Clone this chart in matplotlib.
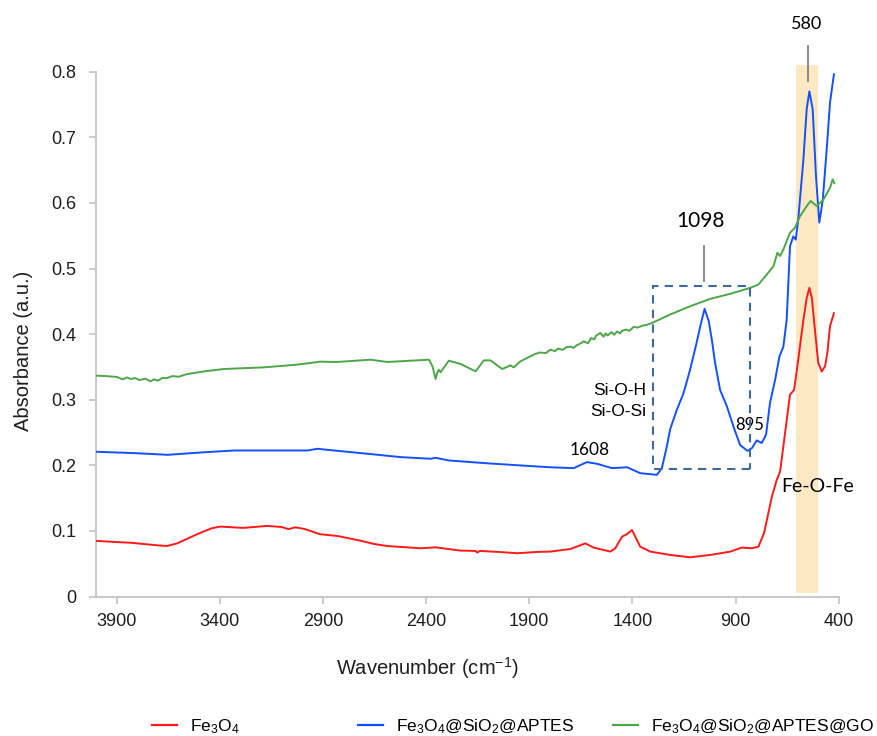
import numpy as np
import matplotlib
matplotlib.use("Agg")
import matplotlib.pyplot as plt
from matplotlib.patches import Rectangle
from matplotlib.lines import Line2D
from matplotlib.ticker import FuncFormatter

plt.rcParams.update({'font.family': 'Liberation Sans', 'font.size': 13,
                     'mathtext.default': 'regular'})

# FTIR spectra (wavenumber cm-1, absorbance a.u.)
wn_fe3o4 = [3995, 3900, 3833, 3700, 3656, 3607, 3510, 3440, 3398, 3285, 3172, 3100,
            3067, 3035, 2990, 2914, 2833, 2814, 2717, 2650, 2588, 2426, 2354, 2233,
            2160, 2152, 2140, 2050, 1958, 1860, 1797, 1700, 1628, 1588, 1507, 1483,
            1450, 1425, 1402, 1386, 1362, 1313, 1217, 1120, 1023, 926, 870, 821,
            789, 762, 741, 724, 700, 684, 660, 636, 616, 596, 571, 555, 542, 530,
            520, 499, 482, 466, 455, 442, 423]
abs_fe3o4 = [0.0847, 0.083, 0.082, 0.078, 0.077, 0.081, 0.095, 0.104, 0.1066, 0.1046,
             0.1076, 0.106, 0.1026, 0.1056, 0.103, 0.095, 0.0924, 0.0913, 0.085, 0.080,
             0.077, 0.0735, 0.075, 0.070, 0.0695, 0.067, 0.0695, 0.068, 0.066, 0.068,
             0.0685, 0.0725, 0.081, 0.0746, 0.0685, 0.0735, 0.0913, 0.0954, 0.1015,
             0.0913, 0.076, 0.0685, 0.0634, 0.0598, 0.0634, 0.0684, 0.0746, 0.0736,
             0.076, 0.0964, 0.127, 0.152, 0.178, 0.1905, 0.249, 0.3076, 0.315, 0.361,
             0.422, 0.455, 0.4705, 0.455, 0.422, 0.356, 0.343, 0.351, 0.371, 0.412, 0.432]

wn_aptes = [3995, 3814, 3652, 3491, 3330, 3168, 2975, 2927, 2846, 2684, 2523, 2378,
            2354, 2290, 2100, 1900, 1797, 1685, 1620, 1571, 1499, 1425, 1362, 1281,
            1257, 1233, 1217, 1184, 1152, 1120, 1090, 1071, 1050, 1030, 1015, 999,
            975, 942, 910, 878, 842, 821, 797, 773, 752, 733, 708, 687, 668, 652,
            636, 620, 608, 596, 571, 555, 542, 526, 510, 494, 477, 458, 442, 423]
abs_aptes = [0.2206, 0.2186, 0.216, 0.2196, 0.2226, 0.2226, 0.2226, 0.2252, 0.2226,
             0.2176, 0.2125, 0.210, 0.2115, 0.2074, 0.203, 0.199, 0.197, 0.1957,
             0.2049, 0.2023, 0.1957, 0.197, 0.188, 0.1855, 0.1957, 0.2287, 0.255,
             0.285, 0.31, 0.346, 0.385, 0.412, 0.4385, 0.42, 0.3916, 0.356, 0.315,
             0.29, 0.259, 0.231, 0.222, 0.226, 0.238, 0.234, 0.2466, 0.295, 0.3305,
             0.366, 0.381, 0.422, 0.534, 0.549, 0.544, 0.575, 0.666, 0.743, 0.770,
             0.743, 0.641, 0.570, 0.605, 0.682, 0.753, 0.796]

wn_go = [3995, 3950, 3898, 3870, 3850, 3833, 3810, 3790, 3760, 3736, 3720, 3700,
         3680, 3656, 3630, 3600, 3559, 3480, 3381, 3188, 3027, 2960, 2914, 2833,
         2669, 2588, 2386, 2369, 2354, 2345, 2338, 2330, 2290, 2233, 2160, 2120,
         2088, 2031, 1991, 1975, 1943, 1878, 1850, 1820, 1797, 1775, 1760, 1740,
         1720, 1700, 1685, 1670, 1650, 1636, 1615, 1600, 1585, 1575, 1555, 1540,
         1530, 1520, 1500, 1488, 1474, 1460, 1450, 1430, 1415, 1394, 1375, 1350,
         1330, 1305, 1217, 1120, 1023, 926, 829, 789, 748, 716, 697, 684, 668,
         636, 612, 587, 555, 536, 506, 474, 442, 429, 421]
abs_go = [0.3366, 0.336, 0.3346, 0.331, 0.334, 0.3316, 0.333, 0.330, 0.332, 0.328,
          0.331, 0.329, 0.333, 0.333, 0.336, 0.335, 0.339, 0.343, 0.3468, 0.3493,
          0.3534, 0.356, 0.358, 0.3575, 0.361, 0.3575, 0.361, 0.3509, 0.3316, 0.342,
          0.3458, 0.3417, 0.3595, 0.3545, 0.3432, 0.360, 0.360, 0.3468, 0.3524,
          0.3493, 0.3585, 0.3687, 0.372, 0.371, 0.3763, 0.374, 0.378, 0.376, 0.380,
          0.381, 0.379, 0.383, 0.386, 0.389, 0.386, 0.394, 0.392, 0.398, 0.4018,
          0.396, 0.401, 0.398, 0.403, 0.399, 0.404, 0.401, 0.405, 0.407, 0.405,
          0.411, 0.410, 0.413, 0.414, 0.417, 0.4298, 0.4425, 0.4537, 0.4614, 0.4705,
          0.4756, 0.491, 0.5035, 0.524, 0.519, 0.529, 0.5545, 0.562, 0.58, 0.595,
          0.603, 0.595, 0.605, 0.623, 0.636, 0.630]

labels = ['Fe$_3$O$_4$', 'Fe$_3$O$_4$@SiO$_2$@APTES', 'Fe$_3$O$_4$@SiO$_2$@APTES@GO']
colors = ['#FF1A1A', '#1450FF', '#4DA64A']
axis_gray = '#C4C4C4'

fig = plt.figure(figsize=(8.77, 7.36), dpi=100)
ax = fig.add_axes([0.1095, 0.1895, 0.8468, 0.7131])

# Fe-O-Fe band highlight (runs slightly above the axis top)
ax.axvspan(500, 607, ymin=0.006, ymax=1.012, color='#FCE9C4', lw=0, zorder=0, clip_on=False)

series = [(wn_fe3o4, abs_fe3o4), (wn_aptes, abs_aptes), (wn_go, abs_go)]
for (x, y), c in zip(series, colors):
    ax.plot(x, y, color=c, lw=1.4, zorder=3)

# Si-O box
ax.add_patch(Rectangle((829, 0.1947), 1300 - 829, 0.473 - 0.1947, fill=False,
                       ec='#3C6A9A', lw=1.5, ls=(0, (4, 3)), zorder=4))

# peak markers
ax.plot([1055, 1055], [0.481, 0.534], color='#808080', lw=1.3)
ax.plot([550, 550], [0.786, 0.839], color='#808080', lw=1.3, clip_on=False)

ann_font = ['Lato', 'DejaVu Sans']
ax.text(1071, 0.572, '1098', fontsize=15, family=ann_font, ha='center', va='center')
ax.text(555, 0.872, '580', fontsize=13, family=ann_font, ha='center', va='center')
ax.text(1607, 0.2237, '1608', fontsize=12.5, family=ann_font, ha='center', va='center')
ax.text(829, 0.262, '895', fontsize=12, family=ann_font, ha='center', va='center')
ax.text(502, 0.1677, 'Fe-O-Fe', fontsize=14, family=ann_font, ha='center', va='center')
ax.text(1333, 0.3137, 'Si-O-H', fontsize=12.5, ha='right', va='center')
ax.text(1333, 0.282, 'Si-O-Si', fontsize=12.5, ha='right', va='center')

ax.set_xlim(4000, 400)
ax.set_ylim(0, 0.8)
ax.set_xticks(np.arange(3900, 399, -500))
ax.set_yticks(np.arange(0, 0.81, 0.1))
ax.yaxis.set_major_formatter(FuncFormatter(lambda v, p: '0' if abs(v) < 1e-9 else f'{v:.1f}'))

for s in ['top', 'right']:
    ax.spines[s].set_visible(False)
for s in ['left', 'bottom']:
    ax.spines[s].set_color(axis_gray)
    ax.spines[s].set_linewidth(1.3)
ax.tick_params(axis='both', direction='out', length=5, width=1.2, color=axis_gray,
               labelcolor='#1f1f1f', labelsize=13)
ax.tick_params(axis='y', pad=9)
ax.tick_params(axis='x', pad=7)

ax.set_xlabel('Wavenumber (cm$^{-1}$)', fontsize=14.5, color='#1f1f1f')
ax.set_ylabel('Absorbance (a.u.)', fontsize=14.5, color='#1f1f1f')
ax.xaxis.set_label_coords(0.4457, -0.112)
ax.yaxis.set_label_coords(-0.085, 0.468)

# legend entries spaced like the original
leg_x = [0.173, 0.408, 0.699]
for lab, c, lx in zip(labels, colors, leg_x):
    h = Line2D([], [], color=c, lw=1.6)
    fig.legend(handles=[h], labels=[lab], loc='center left', bbox_to_anchor=(lx, 0.013),
               frameon=False, borderpad=0, borderaxespad=0, handlelength=1.45,
               handletextpad=0.75, fontsize=12.5)

plt.savefig('out.png', dpi=100)
